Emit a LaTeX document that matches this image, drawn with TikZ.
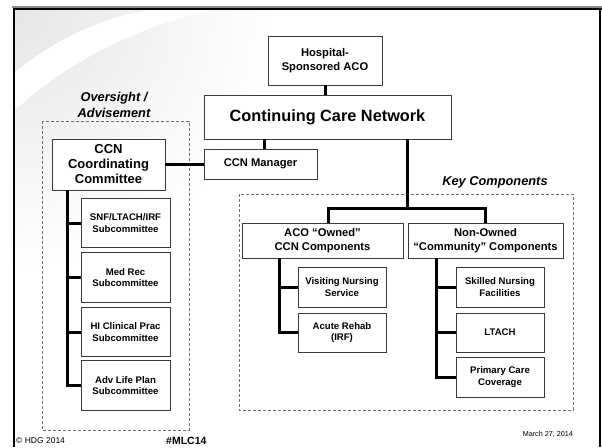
\documentclass[tikz,border=0pt]{standalone}
\usepackage{fontspec}
\setmainfont{Liberation Sans}
\usetikzlibrary{calc}
\definecolor{boxline}{HTML}{3A3A3A}
\definecolor{dashgray}{HTML}{6E6E6E}
\definecolor{framegray}{HTML}{8C8C8C}

\begin{document}
\begin{tikzpicture}[x=1pt,y=-1pt,
  box/.style={draw=boxline, line width=0.9pt, fill=white, align=center, inner sep=0pt},
  fbig/.style={font=\bfseries\fontsize{16.3}{18}\selectfont},
  fmid/.style={font=\bfseries\fontsize{11.2}{14}\selectfont},
  fsmall/.style={font=\bfseries\fontsize{9.6}{11.8}\selectfont},
  fhead/.style={font=\bfseries\itshape\fontsize{12.8}{16}\selectfont, align=center},
  wire/.style={line width=3pt, black, line join=miter},
  grp/.style={draw=dashgray, line width=0.7pt, dash pattern=on 3pt off 2pt},
]
\useasboundingbox (0,0) rectangle (602,447);
\fill[white] (0,0) rectangle (602,447);

% soft swoosh in the upper left corner
\begin{scope}
  \clip (15,10) rectangle (330,300);
  \shade[inner color=black!10, outer color=white] (15,10) circle (260);
  \fill[white] (15,72) .. controls (55,40) and (100,18) .. (150,10)
    -- (215,10) .. controls (140,25) and (70,60) .. (15,110) -- cycle;
\end{scope}

% slide frame
\draw[framegray, line width=2pt] (12,7) -- (602,7);
\draw[black, line width=1.3pt] (13,9) -- (602,9);
\draw[black, line width=2.4pt] (13.8,8) -- (13.8,447);
\draw[black, line width=1.5pt] (600,8) -- (600,447);

% dashed groups
\draw[grp] (42,121) rectangle (189,430);
\draw[grp] (239,194) rectangle (573,410);

\node[fhead] (ovlabel) at (114,105) {Oversight /\\Advisement};
\node[fhead] (kclabel) at (495,182) {Key Components};

% top of the hierarchy
\node[box, fmid, minimum width=114pt, minimum height=49pt] (hosp) at (325,60.5) {Hospital-\\Sponsored ACO};
\node[box, fbig, minimum width=247pt, minimum height=44pt] (ccn) at (327.5,117) {Continuing Care Network};
\node[box, fmid, minimum width=113pt, minimum height=30pt] (mgr) at (260.5,164) {CCN Manager};
\node[box, font=\bfseries\fontsize{13}{15}\selectfont, minimum width=113pt, minimum height=51pt] (coord) at (108.5,164.5) {CCN\\Coordinating\\Committee};

% subcommittees
\node[box, fsmall, minimum width=89pt, minimum height=49.5pt] (s1) at (125.5,223) {SNF/LTACH/IRF\\Subcommittee};
\node[box, fsmall, minimum width=89pt, minimum height=49.5pt] (s2) at (125.5,277.5) {Med Rec\\Subcommittee};
\node[box, fsmall, minimum width=89pt, minimum height=49.5pt] (s3) at (125.5,332) {HI Clinical Prac\\Subcommittee};
\node[box, fsmall, minimum width=89pt, minimum height=49.5pt] (s4) at (125.5,385.5) {Adv Life Plan\\Subcommittee};

% key components
\node[box, fmid, minimum width=161pt, minimum height=35pt] (aco) at (322.5,240.5) {ACO “Owned”\\CCN Components};
\node[box, fmid, minimum width=155pt, minimum height=35pt] (non) at (485.5,240.5) {Non-Owned\\“Community” Components};
\node[box, fsmall, minimum width=88pt, minimum height=40pt] (vns) at (342,287) {Visiting Nursing\\Service};
\node[box, fsmall, minimum width=88pt, minimum height=39pt] (irf) at (342,332.5) {Acute Rehab\\(IRF)};
\node[box, fsmall, minimum width=88pt, minimum height=40pt] (snf) at (500,287) {Skilled Nursing\\Facilities};
\node[box, fsmall, minimum width=88pt, minimum height=39pt] (ltach) at (500,332.5) {LTACH};
\node[box, fsmall, minimum width=88pt, minimum height=40pt] (pcc) at (500,377) {Primary Care\\Coverage};

% connector junctions
\coordinate (mj) at (264,0);
\coordinate (kj) at (407,208);
\coordinate (al) at (328,0);
\coordinate (ct) at (67,0);
\coordinate (at) at (279,0);
\coordinate (nt) at (436,0);

% connectors
\draw[wire] (hosp.south) -- (hosp.south |- ccn.north);
\draw[wire] (ccn.south -| mj) -- (mgr.north -| mj);
\draw[wire] (coord.east |- mgr.west) -- (mgr.west);
\draw[wire] (ccn.south -| kj) -- (kj);
\draw[wire] (aco.north -| al) |- (kj) -| (non.north);

\draw[wire] (coord.south -| ct) |- (s4.west);
\draw[wire] (s1.west -| ct) -- (s1.west);
\draw[wire] (s2.west -| ct) -- (s2.west);
\draw[wire] (s3.west -| ct) -- (s3.west);

\draw[wire] (aco.south -| at) |- (irf.west);
\draw[wire] (vns.west -| at) -- (vns.west);

\draw[wire] (non.south -| nt) |- (pcc.west);
\draw[wire] (snf.west -| nt) -- (snf.west);
\draw[wire] (ltach.west -| nt) -- (ltach.west);

% footer
\node[anchor=west, inner sep=0pt, font=\fontsize{8.5}{10}\selectfont] (copy) at (16,441) {© HDG 2014};
\node[anchor=west, inner sep=0pt, font=\bfseries\fontsize{10.5}{12}\selectfont] (tag) at (166,441) {\#MLC14};
\node[anchor=east, inner sep=0pt, font=\fontsize{7.2}{9}\selectfont] (date) at (573,434) {March 27, 2014};
\end{tikzpicture}
\end{document}
